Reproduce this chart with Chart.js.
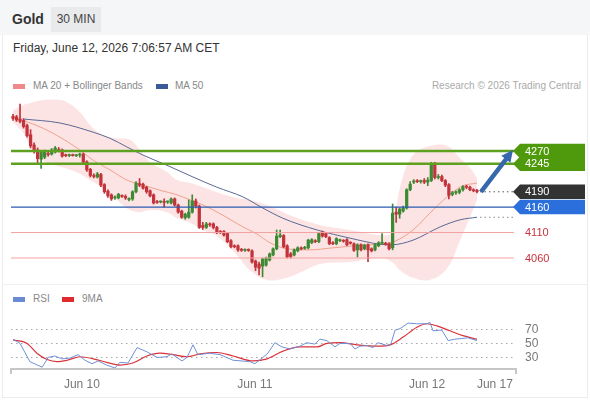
<!DOCTYPE html>
<html lang="en">
<head>
  <meta charset="UTF-8">
  <title>Gold 30 MIN</title>
  <script src="https://cdn.jsdelivr.net/npm/chart.js@4"></script>
  <style>
    body { margin: 0; width: 590px; height: 400px; position: relative; overflow: hidden; background: #fff;
           font-family: "Liberation Sans", Arial, sans-serif; }
    .head { position: absolute; left: 0; top: 0; width: 590px; height: 35px; background: #f5f6f7; }
    .title { position: absolute; left: 12px; top: 11px; font-size: 14px; font-weight: bold; color: #333; }
    .tf { position: absolute; left: 51px; top: 7px; width: 50px; height: 25px; line-height: 25px; text-align: center;
          background: #e9eaeb; color: #444; font-size: 12px; }
    .frame { position: absolute; left: 2px; top: 35px; width: 584px; height: 362px; border: 1px solid #ececec; border-top: none; }
    .date { position: absolute; left: 13px; top: 41px; font-size: 12px; color: #333; }
    .legend { position: absolute; font-size: 10px; color: #888; white-space: nowrap; }
    .sw { position: absolute; width: 12px; height: 5px; }
    .credit { position: absolute; right: 9px; top: 80px; font-size: 10px; color: #aaa; }
    .sep { position: absolute; left: 3px; top: 284px; width: 584px; height: 1px; background: #f0f0f0; }
    canvas { position: absolute; left: 0; }
  </style>
</head>
<body>
  <div class="head"></div>
  <div class="title">Gold</div>
  <div class="tf">30 MIN</div>
  <div class="frame"></div>
  <div class="date">Friday, June 12, 2026 7:06:57 AM CET</div>

  <div class="sw" style="left:13px;top:84px;background:#f08a8a"></div>
  <div class="legend" style="left:33px;top:80px">MA 20 + Bollinger Bands</div>
  <div class="sw" style="left:156px;top:84px;background:#3b5a98"></div>
  <div class="legend" style="left:175px;top:80px">MA 50</div>
  <div class="credit">Research © 2026 Trading Central</div>

  <div class="sep"></div>
  <div class="sw" style="left:13px;top:297px;background:#6a8ad6"></div>
  <div class="legend" style="left:33px;top:293px">RSI</div>
  <div class="sw" style="left:62px;top:297px;background:#e02a2e"></div>
  <div class="legend" style="left:82px;top:293px">9MA</div>

  <canvas id="priceChart" width="590" height="190" style="top:95px"></canvas>
  <canvas id="rsiChart" width="590" height="100" style="top:300px"></canvas>

  <script>
    // 30 min candles, Jun 9 evening -> Jun 12 morning
    const opens = [4338, 4337, 4333, 4330, 4320, 4302, 4282, 4272, 4254, 4258,
      4265, 4264, 4268, 4273, 4272, 4262, 4261, 4262, 4261, 4262,
      4264, 4249, 4234, 4222, 4219, 4224, 4204, 4191, 4184, 4178,
      4178, 4182, 4181, 4175, 4176, 4190, 4206, 4205, 4199, 4192,
      4184, 4171, 4170, 4171, 4170, 4168, 4176, 4164, 4152, 4139,
      4140, 4150, 4172, 4162, 4124, 4120, 4126, 4127, 4120, 4112,
      4112, 4108, 4094, 4084, 4084, 4076, 4075, 4076, 4074, 4054,
      4048, 4044, 4046, 4056, 4066, 4078, 4102, 4104, 4084, 4068,
      4066, 4074, 4079, 4079, 4080, 4090, 4093, 4092, 4110, 4108,
      4100, 4090, 4088, 4094, 4094, 4096, 4090, 4088, 4076, 4086,
      4078, 4086, 4078, 4076, 4084, 4089, 4088, 4088, 4080, 4150,
      4146, 4152, 4158, 4194, 4209, 4211, 4210, 4212, 4209, 4212,
      4244, 4218, 4220, 4212, 4204, 4185, 4188, 4189, 4194, 4200,
      4199, 4194, 4193];
    const highs = [4342, 4340, 4362, 4333, 4323, 4312, 4286, 4276, 4271, 4272,
      4268, 4275, 4279, 4277, 4274, 4264, 4264, 4264, 4263, 4266,
      4266, 4251, 4236, 4225, 4228, 4226, 4206, 4194, 4186, 4182,
      4187, 4184, 4184, 4178, 4192, 4210, 4216, 4207, 4201, 4194,
      4186, 4173, 4172, 4176, 4172, 4178, 4178, 4166, 4154, 4148,
      4174, 4184, 4176, 4164, 4130, 4130, 4129, 4129, 4122, 4114,
      4114, 4110, 4096, 4086, 4086, 4079, 4078, 4078, 4076, 4056,
      4052, 4060, 4062, 4070, 4080, 4115, 4115, 4106, 4086, 4071,
      4078, 4082, 4082, 4083, 4097, 4098, 4096, 4110, 4113, 4110,
      4102, 4092, 4100, 4097, 4096, 4098, 4092, 4090, 4088, 4088,
      4087, 4088, 4080, 4088, 4092, 4108, 4091, 4090, 4166, 4160,
      4158, 4162, 4196, 4210, 4214, 4214, 4213, 4216, 4218, 4248,
      4248, 4224, 4223, 4214, 4206, 4191, 4192, 4196, 4202, 4203,
      4201, 4196, 4195];
    const lows = [4330, 4328, 4325, 4315, 4297, 4276, 4266, 4245, 4236, 4255,
      4260, 4262, 4266, 4268, 4258, 4259, 4259, 4260, 4259, 4258,
      4246, 4230, 4219, 4217, 4217, 4200, 4187, 4179, 4173, 4175,
      4176, 4179, 4175, 4172, 4173, 4188, 4200, 4195, 4187, 4180,
      4166, 4167, 4168, 4160, 4167, 4166, 4162, 4148, 4138, 4136,
      4138, 4148, 4158, 4118, 4116, 4118, 4122, 4117, 4108, 4108,
      4103, 4090, 4080, 4080, 4073, 4073, 4073, 4073, 4050, 4035,
      4027, 4023, 4044, 4054, 4064, 4076, 4100, 4080, 4060, 4060,
      4064, 4072, 4076, 4077, 4078, 4088, 4090, 4090, 4101, 4100,
      4086, 4086, 4086, 4092, 4091, 4084, 4087, 4073, 4062, 4074,
      4076, 4053, 4072, 4074, 4082, 4087, 4085, 4076, 4076, 4130,
      4138, 4150, 4156, 4192, 4206, 4208, 4207, 4206, 4202, 4210,
      4215, 4215, 4210, 4200, 4176, 4182, 4185, 4186, 4191, 4196,
      4192, 4190, 4188];
    const closes = [4334, 4331, 4328, 4318, 4300, 4280, 4270, 4255, 4268, 4268,
      4263, 4272, 4276, 4270, 4260, 4261, 4262, 4261, 4262, 4263,
      4248, 4233, 4222, 4220, 4225, 4203, 4190, 4182, 4176, 4180,
      4185, 4181, 4178, 4176, 4190, 4207, 4203, 4197, 4190, 4182,
      4168, 4169, 4171, 4169, 4171, 4176, 4164, 4150, 4140, 4146,
      4150, 4172, 4162, 4120, 4120, 4127, 4125, 4120, 4110, 4110,
      4105, 4092, 4082, 4082, 4076, 4075, 4076, 4075, 4052, 4042,
      4040, 4058, 4060, 4068, 4078, 4103, 4105, 4082, 4062, 4063,
      4076, 4080, 4078, 4081, 4095, 4096, 4092, 4108, 4103, 4102,
      4088, 4088, 4098, 4095, 4093, 4086, 4089, 4075, 4086, 4076,
      4085, 4076, 4074, 4086, 4090, 4090, 4087, 4078, 4148, 4146,
      4156, 4158, 4194, 4205, 4211, 4210, 4211, 4209, 4213, 4244,
      4218, 4220, 4212, 4203, 4183, 4188, 4190, 4194, 4200, 4199,
      4194, 4192, 4190];

    const bandX = [0, 2.8, 4.8, 8.5, 13.4, 15.4, 19.1, 21.9, 25.6, 29.6, 33.3, 36.1, 39, 43.8, 46.7, 50.4,
      54.1, 58, 63.7, 67.4, 72.3, 78.8, 87.3, 95.9, 104.4, 107.8, 110.1, 113.8, 118.6, 123.5, 127.2, 130, 132];
    const bandUpper = [4350, 4360, 4364, 4370, 4370, 4366, 4346, 4321, 4301, 4295, 4292, 4272, 4248, 4229, 4213, 4207,
      4199, 4189, 4178, 4174, 4164, 4144, 4125, 4115, 4105, 4111, 4199, 4262, 4280, 4280, 4256, 4237, 4217];
    const bandLower = [4327, 4307, 4282, 4252, 4239, 4235, 4225, 4213, 4197, 4174, 4154, 4150, 4154, 4150, 4138, 4129,
      4115, 4103, 4066, 4036, 4017, 4023, 4048, 4052, 4060, 4052, 4036, 4021, 4017, 4040, 4095, 4140, 4174];
    const ma20X = [2.6, 8.5, 13.4, 18.2, 22.8, 27.6, 32.4, 37, 41.8, 46.7, 50.4, 54.1, 59.7, 65.4, 69.4, 73.1,
      78, 84.5, 91, 98.7, 106.4, 108.7, 113.8, 118.6, 123.5, 127.7, 132];
    const ma20 = [4331, 4315, 4297, 4276, 4252, 4233, 4213, 4203, 4193, 4184, 4174, 4164, 4144, 4121, 4107, 4090,
      4078, 4076, 4080, 4085, 4089, 4093, 4115, 4148, 4180, 4201, 4207];
    const ma50X = [2.8, 13.4, 22.8, 27.6, 32.4, 37, 43.8, 51.2, 58, 65.4, 71.1, 76.8, 86.5, 95.9, 104.4, 107.8,
      113.8, 121.5, 127.2, 132];
    const ma50 = [4333, 4325, 4307, 4295, 4278, 4262, 4242, 4219, 4199, 4180, 4158, 4138, 4115, 4099, 4087, 4086,
      4095, 4121, 4135, 4140];

    const rsiX = [0, 2, 4.8, 8.3, 10, 11.9, 13.9, 16.2, 18.5, 20.5, 22.5, 24.2, 26.7, 29, 30.4, 32.7, 35.3, 38.1,
      41, 43.8, 45.2, 48.1, 49.5, 51.2, 52.6, 56, 58.9, 62.6, 67.4, 68.8, 71.1, 72.5, 74.5, 76.5, 78.8, 81.6,
      83.6, 85.9, 87.3, 89.3, 91.6, 93, 95.9, 97.3, 98.7, 100.7, 102.4, 103.8, 106.4, 107.5, 108.7, 110.1, 112.4,
      114.9, 117.8, 118.6, 119.5, 122, 123.8, 125.7, 127.7, 129.4, 132];
    const rsi = [56, 50, 24, 16, 30, 32, 28, 29, 34, 26, 21, 25, 19, 15, 23, 22, 44, 38,
      30, 31, 35, 25, 30, 48, 34, 36, 34, 26, 24, 21, 30, 36, 51, 45, 42, 46,
      51, 49, 56, 54, 45, 50, 50, 42, 46, 47, 44, 51, 47, 49, 69, 71, 79,
      78, 78, 80, 68, 69, 54, 56, 57, 58, 54];
    const rsiMaX = [0, 4, 6.8, 9.7, 12.5, 15.4, 19.1, 22.8, 26.7, 30.4, 34.1, 38.1, 41.8, 45.5, 49.5, 53.2, 58,
      62.6, 68.3, 72.3, 76.8, 81.6, 86.5, 89.3, 93, 97.9, 103.6, 107.3, 111, 114.9, 117.8, 120.6, 124.3, 128, 132];
    const rsiMa = [55, 50, 36, 27, 24, 26, 31, 28, 23, 19, 22, 32, 36, 34, 31, 35, 37,
      32, 25, 28, 39, 45, 45, 50, 51, 48, 46, 48, 59, 73, 78, 75, 68, 61, 56];

    const dateTicks = [19.6, 68.8, 117.8, 137.1];
    const dateLabels = ['Jun 10', 'Jun 11', 'Jun 12', 'Jun 17'];
    const resistances = [4270, 4245];
    const pivot = 4160;
    const supports = [4110, 4060];
    const lastPrice = 4190;
    const targetPrice = 4272;
    const rsiLevels = [30, 50, 70];

    const X_MIN = -0.57, X_MAX = 143.1;
    const UP = '#3e8a34', DOWN = '#c2333b';
    Chart.defaults.font.family = '"Liberation Sans", Arial, sans-serif';

    const pts = (xs, ys) => xs.map((x, i) => ({ x: x, y: ys[i] }));
    const candleColor = ctx => closes[ctx.dataIndex] >= opens[ctx.dataIndex] ? UP : DOWN;

    // level lines, price tags and the forecast arrow
    const levelsPlugin = {
      id: 'levels',
      afterDatasetsDraw(chart) {
        const { ctx, chartArea: a, scales: { x, y } } = chart;
        const hline = (v, color, w) => {
          const py = y.getPixelForValue(v);
          ctx.beginPath();
          ctx.moveTo(a.left, py);
          ctx.lineTo(a.right - 2, py);
          ctx.strokeStyle = color;
          ctx.lineWidth = w;
          ctx.stroke();
        };
        ctx.save();
        supports.forEach(v => hline(v, '#f2a3a3', 1));
        hline(pivot, '#2b5db2', 1.3);
        resistances.forEach(v => hline(v, '#5ea020', 2.6));

        // dotted extensions
        const lastX = x.getPixelForValue(closes.length - 1) + 3;
        ctx.setLineDash([1.5, 3]);
        ctx.lineWidth = 1;
        ctx.strokeStyle = '#555';
        ctx.beginPath();
        ctx.moveTo(lastX, y.getPixelForValue(lastPrice));
        ctx.lineTo(a.right - 3, y.getPixelForValue(lastPrice));
        ctx.stroke();
        ctx.strokeStyle = '#888';
        ctx.beginPath();
        ctx.moveTo(lastX, y.getPixelForValue(ma50[ma50.length - 1]));
        ctx.lineTo(a.right - 3, y.getPixelForValue(ma50[ma50.length - 1]));
        ctx.stroke();
        ctx.setLineDash([]);

        // arrow
        const x0 = lastX + 1, y0 = y.getPixelForValue(lastPrice);
        const x1 = a.right - 3, y1 = y.getPixelForValue(targetPrice);
        const ang = Math.atan2(y1 - y0, x1 - x0);
        const head = 13;
        ctx.strokeStyle = '#3568ac';
        ctx.fillStyle = '#3568ac';
        ctx.lineWidth = 4.5;
        ctx.beginPath();
        ctx.moveTo(x0, y0);
        ctx.lineTo(x1 - Math.cos(ang) * head * 0.8, y1 - Math.sin(ang) * head * 0.8);
        ctx.stroke();
        ctx.beginPath();
        ctx.moveTo(x1, y1);
        ctx.lineTo(x1 - Math.cos(ang - 0.45) * head, y1 - Math.sin(ang - 0.45) * head);
        ctx.lineTo(x1 - Math.cos(ang + 0.45) * head, y1 - Math.sin(ang + 0.45) * head);
        ctx.closePath();
        ctx.fill();
        ctx.restore();
      },
      afterDraw(chart) {
        const { ctx, chartArea: a, scales: { y } } = chart;
        const tipX = a.right - 3, boxR = 585;
        const tag = (v, color) => {
          const py = y.getPixelForValue(v);
          ctx.beginPath();
          ctx.moveTo(tipX, py);
          ctx.lineTo(tipX + 7, py - 7.2);
          ctx.lineTo(boxR, py - 7.2);
          ctx.lineTo(boxR, py + 7.2);
          ctx.lineTo(tipX + 7, py + 7.2);
          ctx.closePath();
          ctx.fillStyle = color;
          ctx.fill();
        };
        const text = (v, color) => {
          ctx.fillStyle = color;
          ctx.fillText(String(v), tipX + 12, y.getPixelForValue(v) + 0.5);
        };
        ctx.save();
        ctx.font = '11px "Liberation Sans", Arial, sans-serif';
        ctx.textBaseline = 'middle';
        ctx.textAlign = 'left';
        resistances.forEach(v => tag(v, '#4f9a0c'));
        tag(lastPrice, '#333333');
        tag(pivot, '#2a6fdc');
        resistances.forEach(v => text(v, '#fff'));
        text(lastPrice, '#fff');
        text(pivot, '#fff');
        supports.forEach(v => text(v, '#c8323e'));
        ctx.restore();
      }
    };

    new Chart(document.getElementById('priceChart'), {
      type: 'bar',
      data: {
        datasets: [
          { type: 'line', data: pts(bandX, bandUpper), fill: '+1', backgroundColor: 'rgba(245,150,150,0.26)',
            borderWidth: 0, pointRadius: 0, tension: 0.4, order: 10 },
          { type: 'line', data: pts(bandX, bandLower), fill: false, borderWidth: 0, pointRadius: 0,
            tension: 0.4, order: 11 },
          { type: 'line', data: pts(ma20X, ma20), borderColor: '#f0a08c', borderWidth: 1, pointRadius: 0,
            tension: 0.4, cubicInterpolationMode: 'monotone', order: 5 },
          { type: 'line', data: pts(ma50X, ma50), borderColor: '#5a6894', borderWidth: 1, pointRadius: 0,
            tension: 0.4, cubicInterpolationMode: 'monotone', order: 4 },
          { data: highs.map((h, i) => ({ x: i, y: [lows[i], h] })), backgroundColor: candleColor,
            barThickness: 1, grouped: false, order: 2 },
          { data: opens.map((o, i) => ({ x: i, y: [o, closes[i]] })), backgroundColor: candleColor,
            barThickness: 2.6, minBarLength: 1, grouped: false, order: 1 }
        ]
      },
      options: {
        responsive: false,
        animation: false,
        events: [],
        devicePixelRatio: 1,
        layout: { padding: { left: 11, right: 74, top: 0, bottom: 0 } },
        scales: {
          x: { type: 'linear', min: X_MIN, max: X_MAX, offset: false, display: false },
          y: { min: 4007, max: 4380, display: false }
        },
        plugins: { legend: { display: false }, tooltip: { enabled: false } }
      },
      plugins: [levelsPlugin]
    });

    const axisEnds = {
      id: 'axisEnds',
      afterDraw(chart) {
        const { ctx, chartArea: a } = chart;
        ctx.save();
        ctx.strokeStyle = '#c6c6c6';
        ctx.lineWidth = 2;
        [a.left, a.right].forEach(px => {
          ctx.beginPath();
          ctx.moveTo(px, a.bottom);
          ctx.lineTo(px, a.bottom + 5);
          ctx.stroke();
        });
        ctx.restore();
      }
    };

    new Chart(document.getElementById('rsiChart'), {
      type: 'line',
      data: {
        datasets: [
          { data: pts(rsiX, rsi), borderColor: '#7090d8', borderWidth: 1, pointRadius: 0, tension: 0 },
          { data: pts(rsiMaX, rsiMa), borderColor: '#d8333a', borderWidth: 1.2, pointRadius: 0,
            tension: 0.4, cubicInterpolationMode: 'monotone' }
        ]
      },
      options: {
        responsive: false,
        animation: false,
        events: [],
        devicePixelRatio: 1,
        layout: { padding: { left: 11, right: 0, top: 5, bottom: 0 } },
        scales: {
          x: {
            type: 'linear', min: X_MIN, max: X_MAX,
            afterBuildTicks: axis => { axis.ticks = dateTicks.map(v => ({ value: v })); },
            afterFit: axis => { axis.height = 31; },
            grid: { display: false, drawTicks: false },
            border: { display: true, color: '#c6c6c6', width: 2 },
            ticks: { autoSkip: false, maxRotation: 0, padding: 8, color: '#777', font: { size: 12 },
              callback: (v, i) => dateLabels[i] }
          },
          y: {
            position: 'right', min: 13.5, max: 88.8,
            afterBuildTicks: axis => { axis.ticks = rsiLevels.map(v => ({ value: v })); },
            afterFit: axis => { axis.width = 74; },
            grid: { color: '#a8a8a8', lineWidth: 1, drawTicks: false },
            border: { display: false, dash: [1.5, 3.5] },
            ticks: { padding: 9, color: '#777', font: { size: 12 } }
          }
        },
        plugins: { legend: { display: false }, tooltip: { enabled: false } }
      },
      plugins: [axisEnds]
    });
  </script>
</body>
</html>
